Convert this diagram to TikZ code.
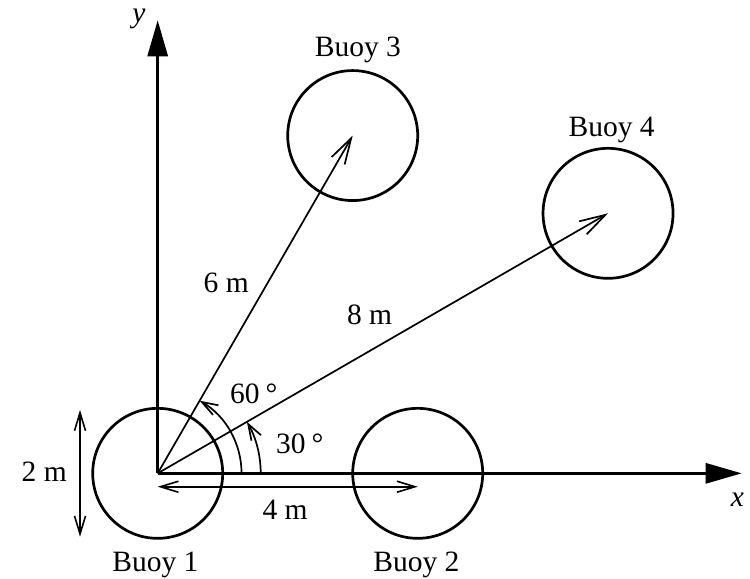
\documentclass[tikz,border=0pt]{standalone}
\usepackage{fontspec}
\setmainfont{Liberation Serif}
\usetikzlibrary{arrows.meta}
\begin{document}
\begin{tikzpicture}[x=65pt,y=65pt,
  font=\fontsize{29.5}{35}\selectfont,
  axis/.style={line width=2.9pt,-{Triangle[length=36pt,width=20pt]}},
  buoy/.style={circle,draw,line width=2.7pt,minimum size=130pt,inner sep=0pt},
  vec/.style={line width=1.7pt,-{Straight Barb[length=26pt,width=15pt]}},
  dimline/.style={line width=1.6pt,{Straight Barb[length=18pt,width=11pt]}-{Straight Barb[length=18pt,width=11pt]}},
  ang/.style={line width=1.7pt,-{Straight Barb[length=16pt,width=11pt]}},
  lbl/.style={anchor=base,inner sep=0pt}]
\useasboundingbox (-2.426,-1.611) rectangle (9.112,7.282);
\coordinate (O) at (0,0);
\coordinate (xe) at (8.985,0);
\coordinate (ye) at (0,6.97);
\node[buoy] (b1) at (0,0) {};
\node[buoy] (b2) at (4,0) {};
\node[buoy] (b3) at (60:6) {};
\node[buoy] (b4) at (30:8) {};
\draw[axis] (O) -- (xe);
\draw[axis] (O) -- (ye);
\draw[vec] (O) -- (b3.center);
\draw[vec] (O) -- (b4.center);
\coordinate (d1) at (0,-0.206);
\coordinate (d2) at (4,-0.206);
\draw[dimline] (d1) -- (d2);
\coordinate (h1) at (-1.195,0.975);
\coordinate (h2) at (-1.195,-0.975);
\draw[dimline] (h1) -- (h2);
\draw[ang] (1.29,0) arc[start angle=0,end angle=60,radius=1.29];
\draw[ang] (1.585,0) arc[start angle=0,end angle=30,radius=1.585];
\node[lbl] (ly) at (-0.288,6.93) {\itshape y};
\node[lbl] (lx) at (8.92,-0.514) {\itshape x};
\node[lbl] (l1) at (-0.034,-1.503) {Buoy 1};
\node[lbl] (l2) at (3.98,-1.503) {Buoy 2};
\node[lbl] (l3) at (3.08,6.405) {Buoy 3};
\node[lbl] (l4) at (6.985,5.18) {Buoy 4};
\node[lbl] (l4m) at (1.96,-0.708) {4 m};
\node[lbl] (l2m) at (-1.746,-0.118) {2 m};
\node[lbl] (l6m) at (1.055,2.778) {6 m};
\node[lbl] (l8m) at (3.26,2.297) {8 m};
\node[lbl,anchor=base west] (a60) at (1.112,1.077) {60\kern6pt°};
\node[lbl,anchor=base west] (a30) at (1.82,0.308) {30\kern6pt°};
\end{tikzpicture}
\end{document}
